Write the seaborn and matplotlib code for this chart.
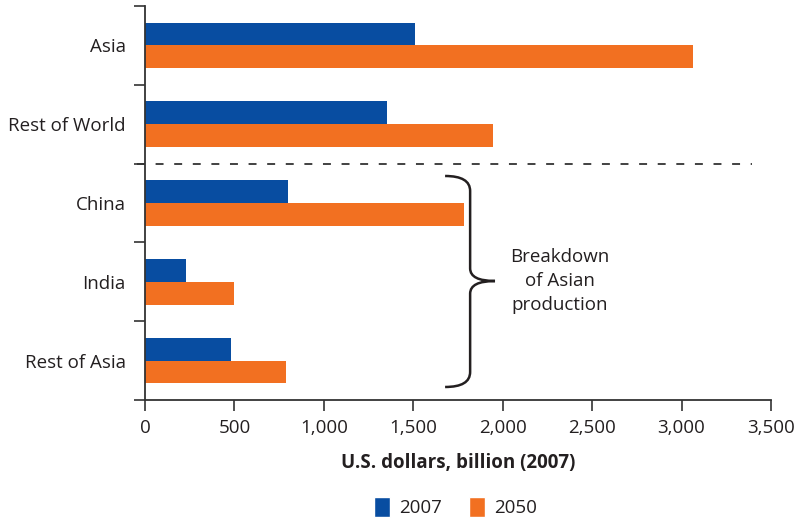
import numpy as np
import pandas as pd
import matplotlib
matplotlib.use("Agg")
import matplotlib.pyplot as plt
from matplotlib.path import Path
from matplotlib.patches import PathPatch, Patch
from matplotlib.ticker import FuncFormatter, FixedLocator
import seaborn as sns

regions = ["Asia", "Rest of World", "China", "India", "Rest of Asia"]
years = ["2007", "2050"]
gdp_2007 = [1510, 1353, 800, 229, 481]
gdp_2050 = [3065, 1946, 1784, 498, 789]
x_ticks = [0, 500, 1000, 1500, 2000, 2500, 3000, 3500]

BLUE = "#084DA1"
ORANGE = "#F27021"
TEXT = "#231F20"
FS = 13.5

df = pd.DataFrame({
    "region": regions * 2,
    "year": [years[0]] * len(regions) + [years[1]] * len(regions),
    "value": gdp_2007 + gdp_2050,
})

sns.set_style("white")
plt.rcParams["font.family"] = ["Open Sans", "DejaVu Sans"]
plt.rcParams["text.color"] = TEXT
plt.rcParams["axes.labelcolor"] = TEXT
plt.rcParams["xtick.color"] = "#333333"
plt.rcParams["ytick.color"] = "#333333"

fig = plt.figure(figsize=(8.01, 5.19), dpi=100)
ax = fig.add_axes([0.181, 0.2293, 0.7815, 0.7591])

sns.barplot(data=df, y="region", x="value", hue="year", order=regions,
            hue_order=years, palette=[BLUE, ORANGE], saturation=1,
            width=0.58, orient="h", ax=ax, legend=False, linewidth=0)

ax.set_xlim(0, 3500)
ax.set_ylim(len(regions) - 0.5, -0.5)
ax.xaxis.set_major_locator(FixedLocator(x_ticks))
ax.xaxis.set_major_formatter(FuncFormatter(lambda v, p: f"{int(v):,}"))
ax.set_yticks(range(len(regions)))
ax.set_yticklabels(regions)
ax.yaxis.set_minor_locator(FixedLocator(np.arange(-0.5, len(regions), 1.0)))
ax.tick_params(axis="y", which="major", length=0, pad=14, labelsize=FS,
               labelcolor=TEXT)
ax.tick_params(axis="y", which="minor", length=8, width=1.2, direction="out",
               left=True)
ax.tick_params(axis="x", which="major", length=8, width=1.2, direction="out",
               bottom=True, pad=6, labelsize=FS, labelcolor=TEXT)

for side in ["top", "right"]:
    ax.spines[side].set_visible(False)
for side in ["left", "bottom"]:
    ax.spines[side].set_color("#333333")
    ax.spines[side].set_linewidth(1.3)

ax.set_xlabel("U.S. dollars, billion (2007)", fontsize=FS, fontweight="bold",
              labelpad=11)
ax.set_ylabel("")

# dashed separator between world totals and Asian breakdown
ax.plot([-45, 3392], [1.5, 1.5], ls=(0, (4.4, 5.9)), color="#333333", lw=1.3,
        clip_on=False, zorder=5)

# curly brace grouping the Asian breakdown
x0, x1, x2 = 1678, 1818, 1957
yt, ym, yb = 1.657, 2.99, 4.335
verts = [
    (x0, yt), (x1, yt), (x1, yt + 0.19),
    (x1, ym - 0.16),
    (x1, ym), (x2, ym),
    (x1, ym), (x1, ym + 0.16),
    (x1, yb - 0.19),
    (x1, yb), (x0, yb),
]
codes = [Path.MOVETO, Path.CURVE3, Path.CURVE3, Path.LINETO,
         Path.CURVE3, Path.CURVE3, Path.CURVE3, Path.CURVE3,
         Path.LINETO, Path.CURVE3, Path.CURVE3]
ax.add_patch(PathPatch(Path(verts, codes), fill=False, lw=1.8,
                       edgecolor=TEXT, clip_on=False, zorder=5))
ax.text(2321, 2.99, "Breakdown\nof Asian\nproduction", ha="center",
        va="center", fontsize=FS, linespacing=1.45)

handles = [Patch(facecolor=BLUE, label=years[0]),
           Patch(facecolor=ORANGE, label=years[1])]
fig.legend(handles=handles, loc="center", bbox_to_anchor=(0.569, 0.023),
           ncol=2, frameon=False, fontsize=FS, handlelength=0.85,
           handleheight=1.22, columnspacing=1.44, handletextpad=0.48)

fig.savefig("out.png", dpi=100)
